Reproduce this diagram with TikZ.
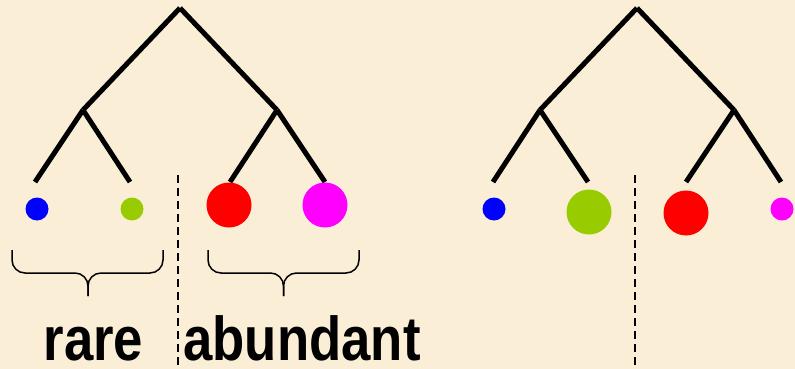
\documentclass[tikz,border=0pt]{standalone}
\usepackage{fontspec}
\setmainfont{Liberation Sans}

\begin{document}
\begin{tikzpicture}[x=1pt,y=-1pt]

\definecolor{paper}{HTML}{FAEED7}
\definecolor{spBlue}{HTML}{0000FF}
\definecolor{spGreen}{HTML}{99CC00}
\definecolor{spRed}{HTML}{FF0000}
\definecolor{spPink}{HTML}{FF00FF}

\tikzset{
  branch/.style={line width=5pt, black},
  small/.style={circle, inner sep=0pt, minimum size=23pt},
  big/.style={circle, inner sep=0pt, minimum size=45pt},
  cut/.style={line width=1.6pt, dash pattern=on 8pt off 5pt},
  group/.style={line width=1.5pt, rounded corners=13pt},
  word/.style={font=\fontsize{62}{62}\selectfont\bfseries, anchor=base, inner sep=0pt, text depth=0pt}
}

\useasboundingbox[fill=paper] (0,0) rectangle (795,369);

%left tree
\coordinate (lroot) at (180,8);
\coordinate (la) at (83,110);
\coordinate (lb) at (277,110);
\coordinate (l1) at (35,182);
\coordinate (l2) at (130,182);
\coordinate (l3) at (230,182);
\coordinate (l4) at (325,182);
\draw[branch] (lroot) -- (la);
\draw[branch] (lroot) -- (lb);
\draw[branch] (la) -- (l1);
\draw[branch] (la) -- (l2);
\draw[branch] (lb) -- (l3);
\draw[branch] (lb) -- (l4);

\node[small, fill=spBlue] (lblue) at (37,209) {};
\node[small, fill=spGreen] (lgreen) at (132,209) {};
\node[big, fill=spRed] (lred) at (229,205) {};
\node[big, fill=spPink] (lpink) at (325,205) {};

\coordinate (lcut1) at (178,175);
\coordinate (lcut2) at (178,369);
\draw[cut] (lcut1) -- (lcut2);

%braces
\foreach \a/\m/\b in {12/88/163, 208/283.5/359} {
  \draw[group] (\a,250) -- (\a,273) -- (\m,273) -- (\m,296);
  \draw[group] (\b,250) -- (\b,273) -- (\m,273) -- (\m,296);
}

\node[word] (rare) at (93.5,360) {\scalebox{0.85}[1]{rare}};
\node[word] (abund) at (302,360) {\scalebox{0.85}[1]{abundant}};

%right tree
\begin{scope}[xshift=457pt]
\coordinate (rroot) at (180,8);
\coordinate (ra) at (83,110);
\coordinate (rb) at (277,110);
\coordinate (r1) at (36,182);
\coordinate (r2) at (131,182);
\coordinate (r3) at (229,182);
\coordinate (r4) at (324,182);
\draw[branch] (rroot) -- (ra);
\draw[branch] (rroot) -- (rb);
\draw[branch] (ra) -- (r1);
\draw[branch] (ra) -- (r2);
\draw[branch] (rb) -- (r3);
\draw[branch] (rb) -- (r4);

\node[small, fill=spBlue] (rblue) at (37,209) {};
\node[big, fill=spGreen] (rgreen) at (132,212) {};
\node[big, fill=spRed] (rred) at (229,213) {};
\node[small, fill=spPink] (rpink) at (325,209) {};

\coordinate (rcut1) at (178,175);
\coordinate (rcut2) at (178,365);
\draw[cut] (rcut1) -- (rcut2);
\end{scope}

\end{tikzpicture}
\end{document}
